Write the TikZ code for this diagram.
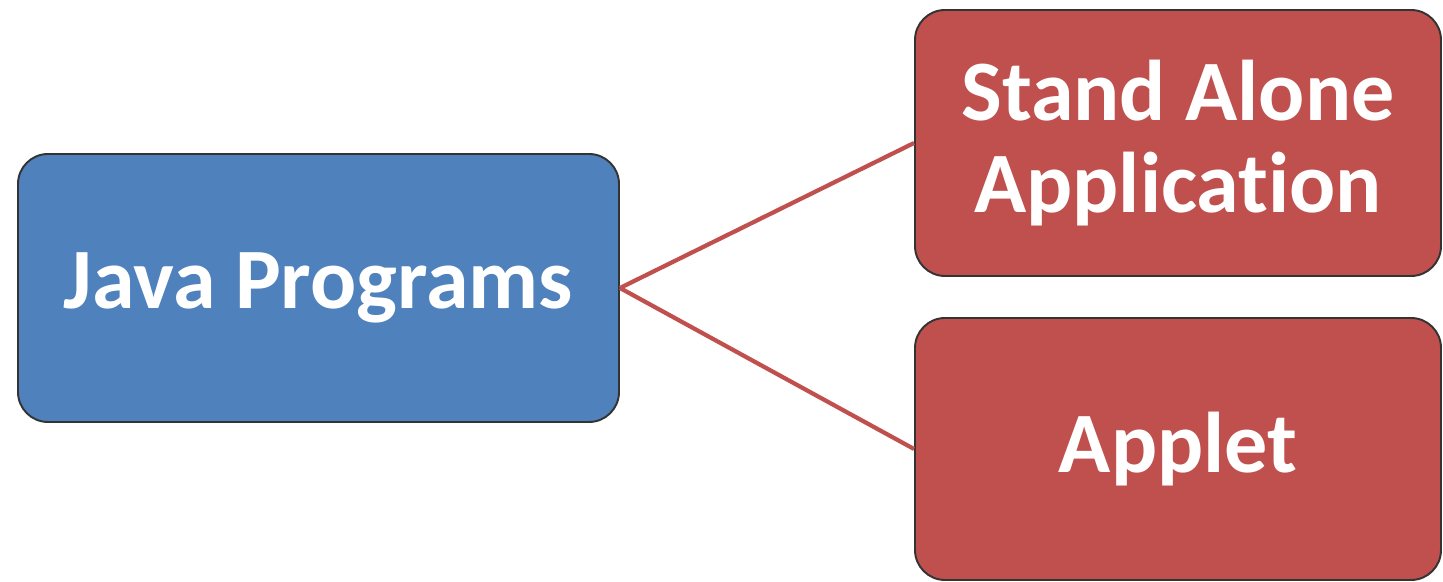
\documentclass[tikz,border=0pt]{standalone}
\usepackage{fontspec}
\setmainfont{Carlito}[Ligatures=NoCommon]
\definecolor{jblue}{HTML}{4F81BD}
\definecolor{jred}{HTML}{C0504D}
\begin{document}
\begin{tikzpicture}
[b/.style={draw=black!80,line width=1.1pt,rounded corners=0.6cm,inner sep=0pt,align=center,text=white,font=\fontsize{49}{52}\selectfont\bfseries},
l/.style={draw=jred,line width=2.4pt}]
\useasboundingbox (0,0) rectangle (28.86,11.64);
\node(java) at (6.37,5.88)[b,fill=jblue,minimum width=12.02cm,minimum height=5.36cm]{Java Programs};
\node(sa) at (23.56,8.78)[b,fill=jred,minimum width=10.52cm,minimum height=5.32cm]{Stand Alone\\Application};
\node(ap) at (23.56,2.66)[b,fill=jred,minimum width=10.52cm,minimum height=5.24cm]{Applet};
\draw[l](java.east)--(sa.west);\draw[l](java.east)--(ap.west);
\end{tikzpicture}
\end{document}
